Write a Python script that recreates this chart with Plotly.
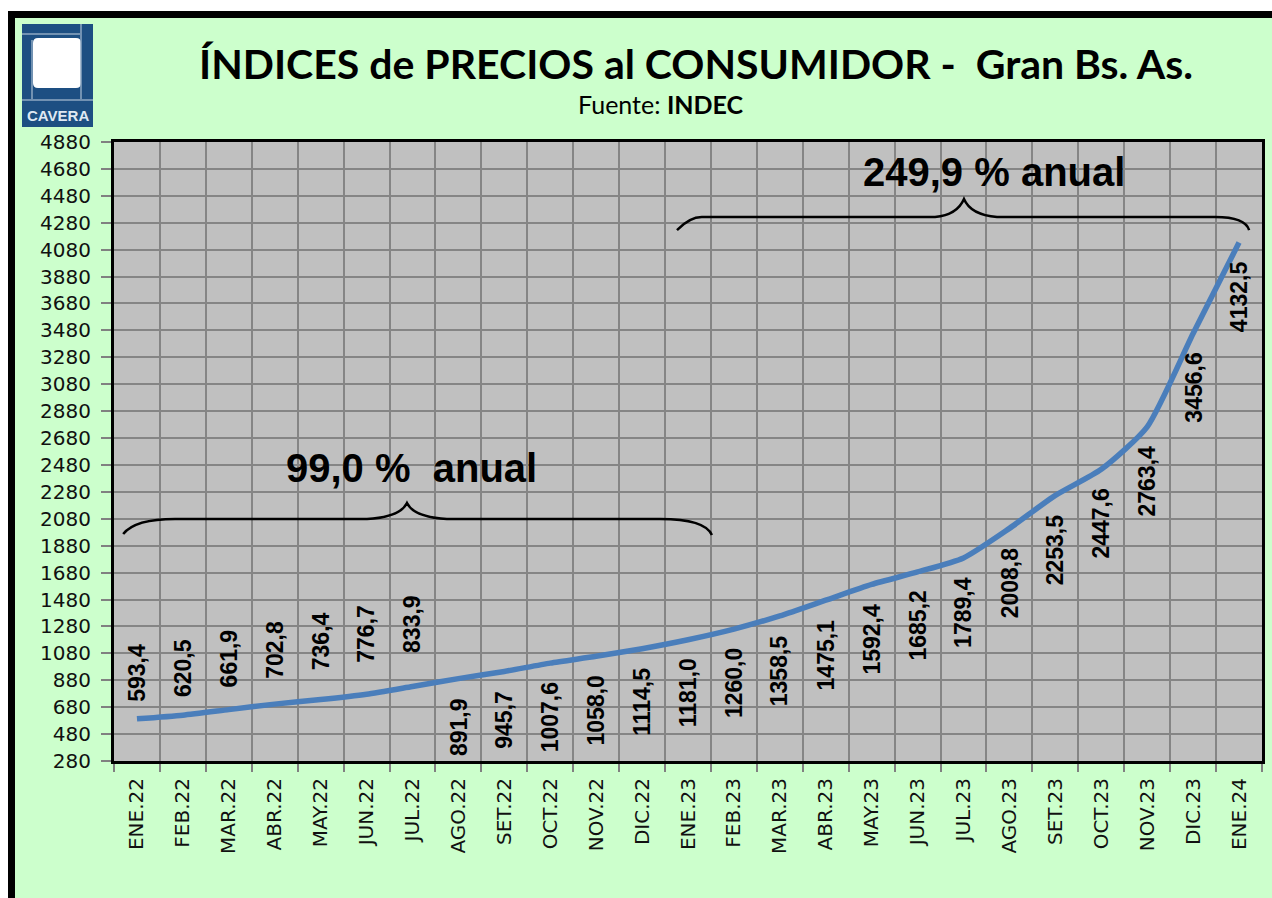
import plotly.graph_objects as go

# ---------------- data ----------------
months = ["ENE.22", "FEB.22", "MAR.22", "ABR.22", "MAY.22", "JUN.22", "JUL.22",
          "AGO.22", "SET.22", "OCT.22", "NOV.22", "DIC.22", "ENE.23", "FEB.23",
          "MAR.23", "ABR.23", "MAY.23", "JUN.23", "JUL.23", "AGO.23", "SET.23",
          "OCT.23", "NOV.23", "DIC.23", "ENE.24"]
ipc = [593.4, 620.5, 661.9, 702.8, 736.4, 776.7, 833.9, 891.9, 945.7, 1007.6,
       1058.0, 1114.5, 1181.0, 1260.0, 1358.5, 1475.1, 1592.4, 1685.2, 1789.4,
       2008.8, 2253.5, 2447.6, 2763.4, 3456.6, 4132.5]

# label placement (style): side of the line and pixel gap
label_side = ["above"] * 7 + ["below"] * 18
label_gap = [15, 16, 20, 23, 27, 29, 32] + [17] * 18

title_text = "ÍNDICES de PRECIOS al CONSUMIDOR -\u00a0 Gran Bs. As."
subtitle_text = "Fuente: <b>INDEC</b>"
note_2022 = "99,0 %\u00a0 anual"
note_2023 = "249,9 % anual"

# ---------------- layout geometry (pixels) ----------------
W, H = 1272, 898
L, R, T, B = 114, 10, 142, 137
PW, PH = W - L - R, H - T - B


def px(x):
    return (x - L) / PW


def py(y):
    return (H - B - y) / PH


def fmt(v):
    return f"{v:.1f}".replace(".", ",")


fig = go.Figure()
fig.add_trace(go.Scatter(
    x=months, y=ipc, mode="lines",
    line=dict(color="#4a7ebb", width=5.5, shape="spline", smoothing=0.6),
    hoverinfo="x+y", showlegend=False))

# data labels
for m, v, side, gap in zip(months, ipc, label_side, label_gap):
    up = side == "above"
    fig.add_annotation(
        x=m, y=v, xref="x", yref="y", text=f"<b>{fmt(v)}</b>", textangle=-90,
        showarrow=False, xanchor="center", yanchor="bottom" if up else "top",
        yshift=gap if up else -gap,
        font=dict(family="Liberation Sans, Arial", size=23, color="black"))

# brace paths (x in category index units, y in value units)
def brace_path(pts):
    (x0, y0), (c1x, c1y), (h0x, hy), (h1x, _), (pc1x, pc1y), (pkx, pky), \
        (pc2x, pc2y), (h2x, _), (h3x, _), (c2x, c2y), (x1, y1) = pts
    return (f"M {x0},{y0} Q {c1x},{c1y} {h0x},{hy} L {h1x},{hy} "
            f"Q {pc1x},{pc1y} {pkx},{pky} Q {pc2x},{pc2y} {h2x},{hy} "
            f"L {h3x},{hy} Q {c2x},{c2y} {x1},{y1}")


brace1 = [(-0.30, 1967), (-0.04, 2078), (0.83, 2078), (5.01, 2078), (5.73, 2093),
          (5.88, 2197), (6.03, 2093), (6.75, 2078), (11.39, 2078), (12.37, 2078),
          (12.52, 1959)]
brace2 = [(11.76, 4226), (12.04, 4323), (12.30, 4323), (17.38, 4323), (17.86, 4337),
          (18.01, 4456), (18.16, 4337), (18.73, 4323), (23.48, 4323), (24.13, 4323),
          (24.22, 4226)]
for br in (brace1, brace2):
    fig.add_shape(type="path", path=brace_path(br), xref="x", yref="y",
                  line=dict(color="black", width=2.5), layer="above")

fig.add_annotation(x=5.97, y=2457, xref="x", yref="y", text=f"<b>{note_2022}</b>",
                   showarrow=False, xanchor="center", yanchor="middle",
                   font=dict(family="Liberation Sans, Arial", size=40, color="black"))
fig.add_annotation(x=18.66, y=4657, xref="x", yref="y", text=f"<b>{note_2023}</b>",
                   showarrow=False, xanchor="center", yanchor="middle",
                   font=dict(family="Liberation Sans, Arial", size=40, color="black"))

# title and source
fig.add_annotation(x=px(696), y=py(63), xref="paper", yref="paper",
                   text=f"<b>{title_text}</b>", showarrow=False,
                   xanchor="center", yanchor="middle",
                   font=dict(family="Lato, Carlito, Calibri", size=41, color="black"))
fig.add_annotation(x=px(661), y=py(104), xref="paper", yref="paper",
                   text=subtitle_text, showarrow=False,
                   xanchor="center", yanchor="middle",
                   font=dict(family="Lato, Carlito, Calibri", size=25, color="black"))

# outer white margin + black frame
fig.add_shape(type="rect", x0=px(-5), x1=px(8), y0=py(-5), y1=py(910), xref="paper",
              yref="paper", fillcolor="white", line=dict(width=0), layer="above")
fig.add_shape(type="rect", x0=px(-5), x1=px(1290), y0=py(-5), y1=py(11), xref="paper",
              yref="paper", fillcolor="white", line=dict(width=0), layer="above")
fig.add_shape(type="rect", x0=px(11.5), x1=px(1300), y0=py(14.5), y1=py(920),
              xref="paper", yref="paper", line=dict(color="black", width=7),
              layer="above")

# logo
BLUE = "#1d4f82"
fig.add_shape(type="rect", x0=px(22), x1=px(93), y0=py(24), y1=py(127), xref="paper",
              yref="paper", fillcolor=BLUE, line=dict(width=0), layer="above")
x0, x1, y0, y1, r = 33, 81, 38, 88, 5
rounded = (f"M {px(x0 + r)},{py(y0)} L {px(x1 - r)},{py(y0)} "
           f"Q {px(x1)},{py(y0)} {px(x1)},{py(y0 + r)} L {px(x1)},{py(y1 - r)} "
           f"Q {px(x1)},{py(y1)} {px(x1 - r)},{py(y1)} L {px(x0 + r)},{py(y1)} "
           f"Q {px(x0)},{py(y1)} {px(x0)},{py(y1 - r)} L {px(x0)},{py(y0 + r)} "
           f"Q {px(x0)},{py(y0)} {px(x0 + r)},{py(y0)} Z")
fig.add_shape(type="path", path=rounded, xref="paper", yref="paper",
              fillcolor="white", line=dict(width=0), layer="above")
for (ax0, ay0, ax1, ay1) in [(22, 34, 80, 34), (81, 24, 81, 99), (32, 40, 32, 99),
                             (22, 100, 93, 100)]:
    fig.add_shape(type="line", x0=px(ax0), y0=py(ay0), x1=px(ax1), y1=py(ay1),
                  xref="paper", yref="paper", line=dict(color="#8fa8c2", width=1.5),
                  layer="above")
fig.add_annotation(x=px(57.5), y=py(115), xref="paper", yref="paper",
                   text="<b>CAVERA</b>", showarrow=False,
                   xanchor="center", yanchor="middle",
                   font=dict(family="Liberation Sans Narrow, Arial Narrow, Liberation Sans",
                             size=15, color="#dfe8f2"))

fig.update_layout(
    width=W, height=H, margin=dict(l=L, r=R, t=T, b=B, autoexpand=False),
    paper_bgcolor="#ccffcc", plot_bgcolor="#c0c0c0",
    showlegend=False,
    xaxis=dict(type="category", range=[-0.5, 24.5], tickson="boundaries",
               ticks="outside", ticklen=8, tickwidth=2, tickcolor="#808080",
               showgrid=True, gridcolor="#858585", gridwidth=2, tickangle=-90,
               ticklabelstandoff=6,
               tickfont=dict(family="DejaVu Sans, Verdana", size=20, color="#111111"),
               showline=True, linecolor="black", linewidth=3, mirror=True,
               fixedrange=True),
    yaxis=dict(range=[280, 4880], tick0=280, dtick=200, ticks="outside",
               ticklen=10, tickwidth=2, tickcolor="#808080", showgrid=True,
               gridcolor="#858585", gridwidth=2, ticklabelstandoff=6,
               tickfont=dict(family="DejaVu Sans, Verdana", size=20, color="#111111"),
               showline=True, linecolor="black", linewidth=3, mirror=True,
               zeroline=False, fixedrange=True),
)

fig.write_html("out.html", post_script="document.body.style.margin='0';",
               config={"displayModeBar": False})
